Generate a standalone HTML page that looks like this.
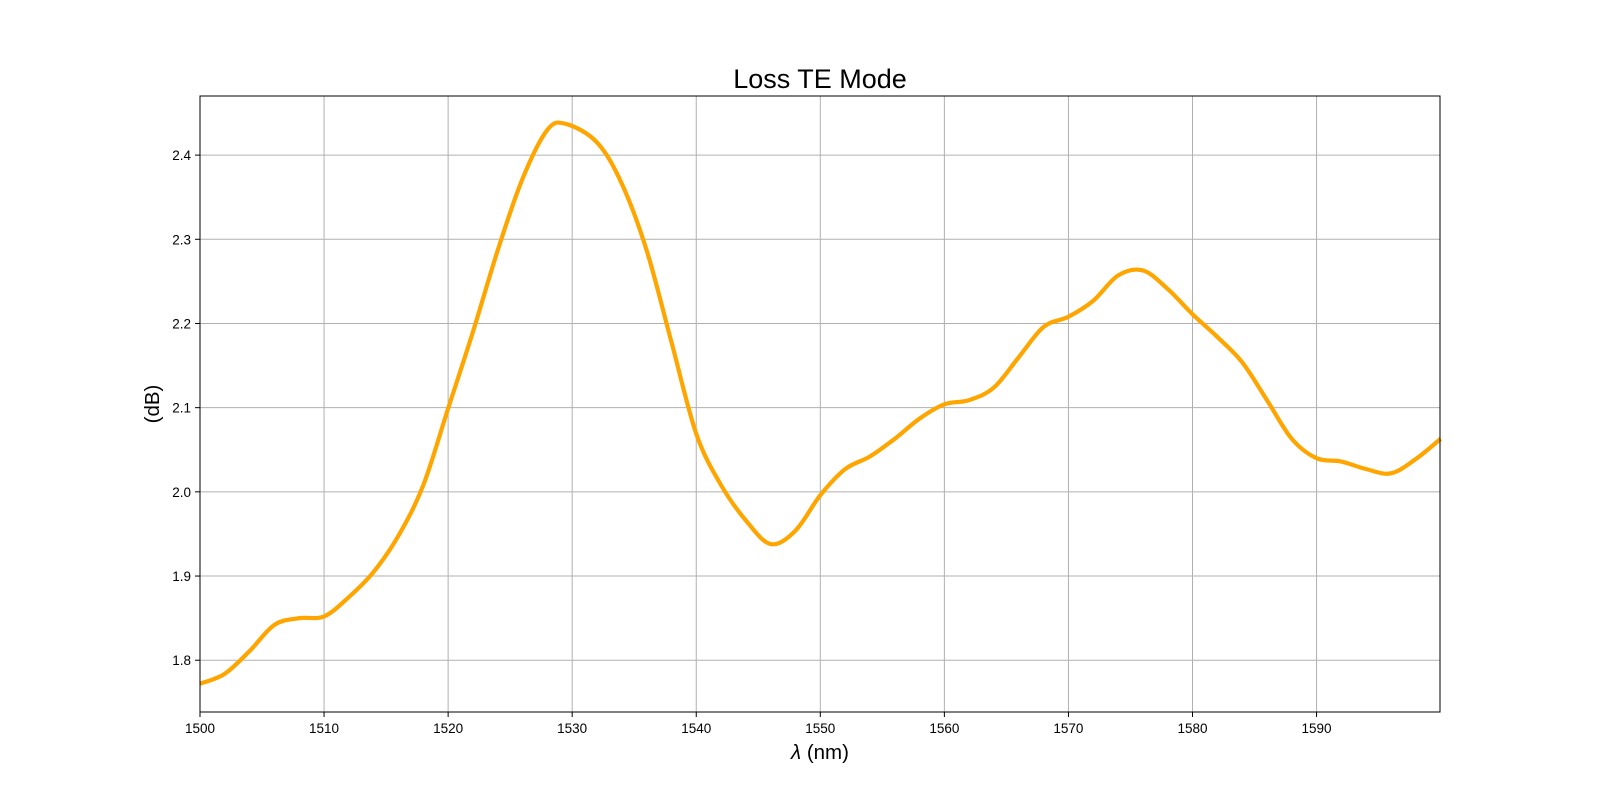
<!DOCTYPE html>
<html><head><meta charset="utf-8"><style>
html,body{margin:0;padding:0;background:#fff;}
svg{display:block;font-family:"Liberation Sans","DejaVu Sans",sans-serif;}
</style></head><body>
<svg id="chart" width="1600" height="800" viewBox="0 0 1600 800">
<text x="820" y="88" font-size="27" text-anchor="middle">Loss TE Mode</text>
<g id="grid"></g>
<g id="ticks"></g>
<path id="line" fill="none" stroke="#ffa500" stroke-width="4.2" stroke-linejoin="round"></path>
<rect x="200" y="96" width="1240" height="616" fill="none" stroke="#000" stroke-width="1"></rect>
<text x="820" y="759" font-size="20.5" text-anchor="middle"><tspan font-style="italic">λ</tspan> (nm)</text>
<text x="159" y="404" font-size="20.5" text-anchor="middle" transform="rotate(-90 159 404)">(dB)</text>
</svg>
<script>
const wavelengths=[1500,1502,1504,1506,1508,1510,1512,1514,1516,1518,1520,1522,1524,1526,1528,1529.5,1532,1534,1536,1538,1540,1542,1544,1546,1548,1550,1552,1554,1556,1558,1560,1562,1564,1566,1568,1570,1572,1574,1576,1578,1580,1582,1584,1586,1588,1590,1592,1594,1596,1598,1600];
const lossValues=[1.772,1.784,1.811,1.842,1.850,1.852,1.875,1.905,1.948,2.008,2.099,2.190,2.287,2.372,2.430,2.437,2.415,2.366,2.287,2.178,2.069,2.008,1.966,1.938,1.954,1.996,2.027,2.042,2.063,2.087,2.104,2.109,2.124,2.160,2.196,2.208,2.227,2.257,2.263,2.241,2.211,2.184,2.154,2.109,2.063,2.040,2.036,2.027,2.022,2.039,2.063];
const xTicks=[1500,1510,1520,1530,1540,1550,1560,1570,1580,1590];
const yTicks=[1.8,1.9,2.0,2.1,2.2,2.3,2.4];
const yTickLabels=["1.8","1.9","2.0","2.1","2.2","2.3","2.4"];

const L=200,R=1440,T=96,B=712;
const xMin=1500,xMax=1599.95,yMin=1.7385,yMax=2.4702;
const sx=v=>L+(v-xMin)/(xMax-xMin)*(R-L);
const sy=v=>B-(v-yMin)/(yMax-yMin)*(B-T);
const NS='http://www.w3.org/2000/svg';
const grid=document.getElementById('grid'),ticks=document.getElementById('ticks');
function mk(tag,attrs,parent){const e=document.createElementNS(NS,tag);for(const k in attrs)e.setAttribute(k,attrs[k]);parent.appendChild(e);return e;}
xTicks.forEach(v=>{
  const x=sx(v);
  const g=mk('line',{x1:x,x2:x,y1:T,y2:B,stroke:'#b0b0b0','stroke-width':1},grid);
  
  
  const t=mk('line',{x1:x,x2:x,y1:B,y2:B+5,stroke:'#000'},ticks);
  
  
  const l=mk('text',{x:x,y:B+21,'font-size':13.5,'text-anchor':'middle'},ticks);
  l.textContent=String(v);
  
  
});
yTicks.forEach((v,i)=>{
  const y=sy(v);
  const g=mk('line',{x1:L,x2:R,y1:y,y2:y,stroke:'#b0b0b0','stroke-width':1},grid);
  
  
  const t=mk('line',{x1:L-5,x2:L,y1:y,y2:y,stroke:'#000'},ticks);
  
  
  const l=mk('text',{x:L-9,y:y+5,'font-size':13.5,'text-anchor':'end'},ticks);
  l.textContent=yTickLabels[i];
  
  
});
const pts=wavelengths.map((w,i)=>[sx(w),sy(lossValues[i])]);
let d='M'+pts[0][0]+','+pts[0][1];
for(let i=0;i<pts.length-1;i++){
  const p0=pts[Math.max(0,i-1)],p1=pts[i],p2=pts[i+1],p3=pts[Math.min(pts.length-1,i+2)];
  const c1=[p1[0]+(p2[0]-p0[0])/6,p1[1]+(p2[1]-p0[1])/6];
  const c2=[p2[0]-(p3[0]-p1[0])/6,p2[1]-(p3[1]-p1[1])/6];
  d+=' C'+c1[0]+','+c1[1]+' '+c2[0]+','+c2[1]+' '+p2[0]+','+p2[1];
}
document.getElementById('line').setAttribute('d',d);
</script>
</body></html>
